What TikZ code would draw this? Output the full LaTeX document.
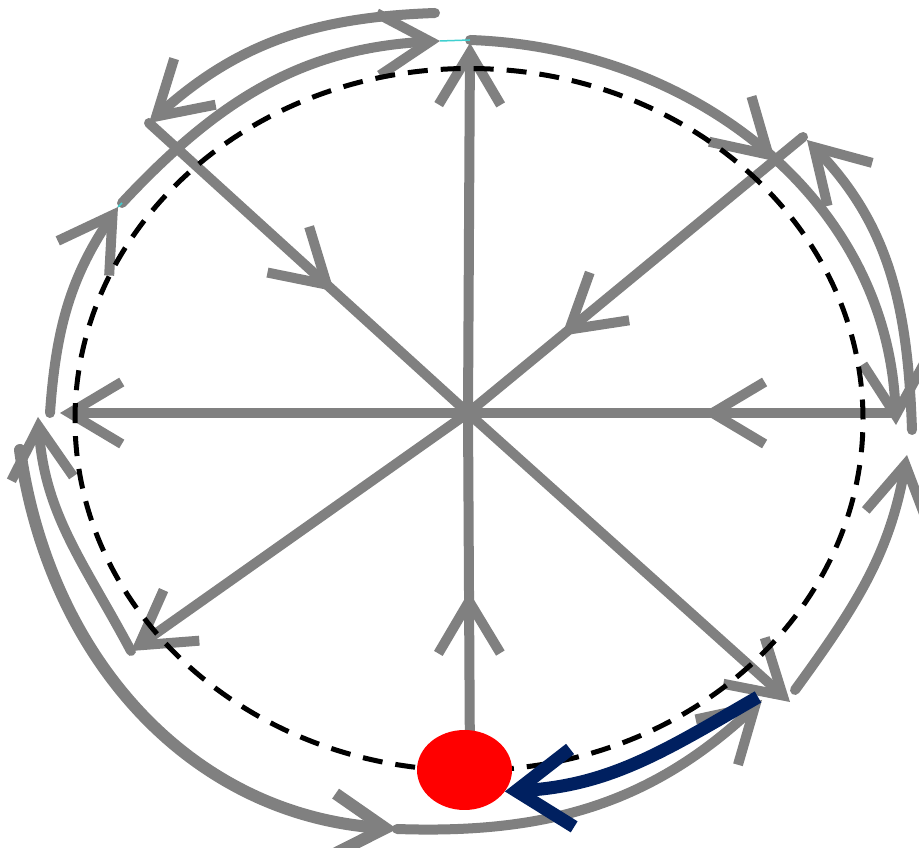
\documentclass[tikz,border=0pt]{standalone}
\usetikzlibrary{arrows.meta, decorations.markings, shapes.geometric}
\definecolor{FlowGray}{RGB}{128,128,128}
\definecolor{OrbitNavy}{RGB}{0,32,96}
\definecolor{TickCyan}{RGB}{64,208,208}

\begin{document}
\begin{tikzpicture}[x=1pt, y=1pt,
    >={Straight Barb[length=52pt, width=62pt]},
    flow/.style={draw=FlowGray, line width=10pt, line cap=round},
    midarrow/.style={postaction={decorate},
      decoration={markings, mark=at position #1 with {\arrow{>}}}},
    separatrix/.style={draw=black, line width=5pt, dash pattern=on 20pt off 13pt},
    eqdot/.style={ellipse, fill=red, minimum width=95pt, minimum height=80pt, inner sep=0pt},
    navyflow/.style={draw=OrbitNavy, line width=13pt, -{Straight Barb[length=56pt, width=78pt]}},
    tick/.style={draw=TickCyan, line width=1.5pt}
  ]
  \useasboundingbox (0,0) rectangle (919,848);

  % radial directions
  \coordinate (C) at (468,435);
  \coordinate (T) at (470,805);
  \coordinate (Bt) at (470,78);
  \coordinate (L) at (60,435);
  \coordinate (R) at (895,435);
  \coordinate (UL) at (149,725);
  \coordinate (UR) at (803,711);
  \coordinate (LL) at (131,197);
  \coordinate (LR) at (790,146);

  \draw[flow, midarrow=0.58] (UL) -- (C);
  \draw[flow, midarrow=0.72] (UR) -- (C);
  \draw[flow, midarrow=0.45] (R) -- (C);
  \draw[flow, midarrow=0.50] (Bt) -- (C);
  \draw[flow, ->] (C) -- (T);
  \draw[flow, ->] (C) -- (L);
  \draw[flow, ->] (C) -- (LL);
  \draw[flow, ->] (C) -- (LR);

  % flow along the boundary
  \coordinate (topA) at (435,835);
  \coordinate (upB) at (122,645);
  \coordinate (topB) at (440,807);
  \coordinate (topC) at (470,808);
  \coordinate (rightC) at (896,423);
  \coordinate (rightD) at (912,418);
  \coordinate (cornerD) at (807,708);
  \coordinate (lowE) at (795,158);
  \coordinate (rightE) at (907,393);
  \coordinate (botF) at (397,19);
  \coordinate (cornerF) at (762,148);
  \coordinate (leftG) at (20,398);
  \coordinate (leftH) at (38,431);
  \coordinate (leftI) at (50,435);
  \coordinate (upI) at (118,641);

  \draw[flow, ->] (topA) to[out=182, in=42] (UL);
  \draw[flow, ->] (upB) to[out=47, in=183] (topB);
  \draw[flow, ->, midarrow=0.53] (topC) to[out=-2, in=92] (rightC);
  \draw[flow, ->] (rightD) to[out=92, in=-46] (cornerD);
  \draw[flow, ->] (lowE) to[out=54, in=-100] (rightE);
  \draw[flow, ->] (botF) to[out=-2, in=223] (cornerF);
  \draw[flow, line width=12pt, ->] (leftG) to[out=-82, in=176] (botF);
  \draw[flow, ->] (LL) to[out=118, in=-86] (leftH);
  \draw[flow, ->] (leftI) to[out=86, in=236] (upI);
  \draw[tick] (topB) -- (topC);
  \draw[tick] (upI) -- (upB);

  % invariant curve
  \draw[separatrix] (469,428.5) ellipse [x radius=394, y radius=351];

  % equilibrium
  \node[eqdot] (eq) at (464.5,78) {};
  \coordinate (navystart) at (758,151);
  \draw[navyflow] (navystart) to[out=210, in=3] (eq.-28);
\end{tikzpicture}
\end{document}
